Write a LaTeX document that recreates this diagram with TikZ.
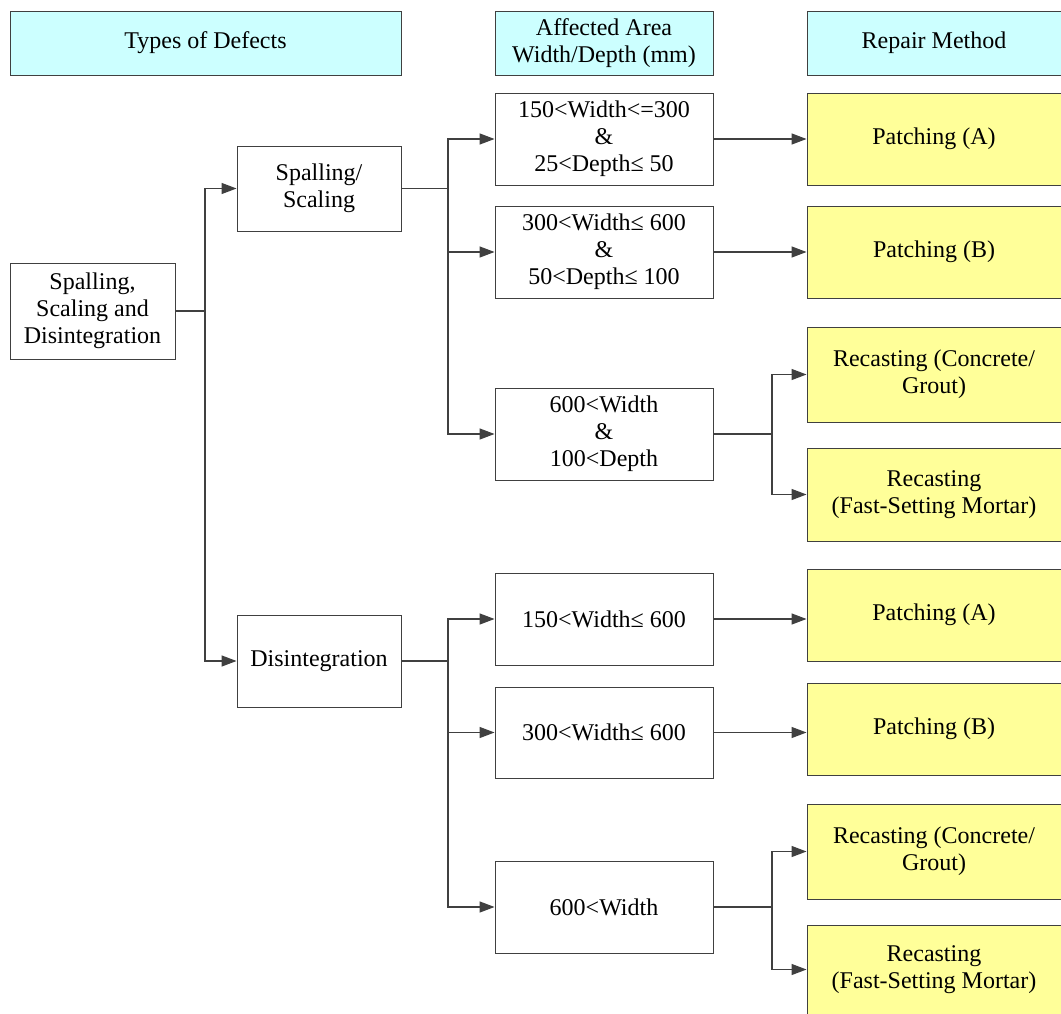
\documentclass[tikz,border=0pt]{standalone}
\usepackage{fontspec}
\setmainfont{Liberation Serif}
\usetikzlibrary{arrows.meta}
\definecolor{headcyan}{HTML}{CCFFFF}
\definecolor{repyellow}{HTML}{FFFF99}
\definecolor{linegray}{HTML}{404040}
\begin{document}
\begin{tikzpicture}[x=1pt,y=-1pt,>={Triangle[length=15pt,width=11pt]},
    line width=1.3pt, draw=linegray,
    box/.style={draw=linegray, line width=0.9pt, rectangle, align=center,
        inner sep=0pt, font=\fontsize{24}{27}\selectfont},
    head/.style={box, fill=headcyan},
    repair/.style={box, fill=repyellow}]
    \useasboundingbox (0,0) rectangle (1061,1014);
    % column headings
    \node (hdefect) [head, minimum width=391pt, minimum height=64pt] at (205.5,43) {Types of Defects};
    \node (harea) [head, minimum width=218pt, minimum height=64pt] at (604,43) {Affected Area\\Width/Depth (mm)};
    \node (hrepair) [head, minimum width=254pt, minimum height=64pt] at (934,43) {Repair Method};
    % defects
    \node (root) [box, minimum width=165pt, minimum height=96pt] at (92.5,311) {Spalling,\\Scaling and\\Disintegration};
    \node (spall) [box, minimum width=164pt, minimum height=85pt] at (319,188.5) {Spalling/\\Scaling};
    \node (disint) [box, minimum width=164pt, minimum height=92pt] at (319,661) {Disintegration};
    % affected areas
    \node (sa1) [box, minimum width=218pt, minimum height=92pt] at (604,139) {150<Width<=300\\\&\\25<Depth≤ 50};
    \node (sa2) [box, minimum width=218pt, minimum height=92pt] at (604,252) {300<Width≤ 600\\\&\\50<Depth≤ 100};
    \node (sa3) [box, minimum width=218pt, minimum height=92pt] at (604,434) {600<Width\\\&\\100<Depth};
    \node (da1) [box, minimum width=218pt, minimum height=92pt] at (604,619) {150<Width≤ 600};
    \node (da2) [box, minimum width=218pt, minimum height=91pt] at (604,732.5) {300<Width≤ 600};
    \node (da3) [box, minimum width=218pt, minimum height=92pt] at (604,907) {600<Width};
    % repair methods
    \node (sr1) [repair, minimum width=254pt, minimum height=92pt] at (934,139) {Patching (A)};
    \node (sr2) [repair, minimum width=254pt, minimum height=92pt] at (934,252) {Patching (B)};
    \node (sr3) [repair, minimum width=254pt, minimum height=95pt] at (934,374.5) {Recasting (Concrete/\\Grout)};
    \node (sr4) [repair, minimum width=254pt, minimum height=93pt] at (934,494.5) {Recasting\\(Fast-Setting Mortar)};
    \node (dr1) [repair, minimum width=254pt, minimum height=92pt] at (934,615) {Patching (A)};
    \node (dr2) [repair, minimum width=254pt, minimum height=92pt] at (934,729) {Patching (B)};
    \node (dr3) [repair, minimum width=254pt, minimum height=95pt] at (934,851.5) {Recasting (Concrete/\\Grout)};
    \node (dr4) [repair, minimum width=254pt, minimum height=89pt] at (934,969.5) {Recasting\\(Fast-Setting Mortar)};
    % branch points
    \coordinate (j0) at (205,311);
    \coordinate (j1) at (448,188.5);
    \coordinate (j2) at (448,661);
    \coordinate (j3) at (772,434);
    \coordinate (j4) at (772,907);

    \draw (root) -- (j0);
    \draw[->] (j0) |- (spall);
    \draw[->] (j0) |- (disint);
    \draw (spall) -- (j1);
    \draw[->] (j1) |- (sa1);
    \draw[->] (j1) |- (sa2);
    \draw[->] (j1) |- (sa3);
    \draw (disint) -- (j2);
    \draw[->] (j2) |- (da1);
    \draw[->] (j2) |- (da2);
    \draw[->] (j2) |- (da3);
    \draw[->] (sa1) -- (sa1 -| sr1.west);
    \draw[->] (sa2) -- (sa2 -| sr2.west);
    \draw (sa3) -- (j3);
    \draw[->] (j3) |- (sr3);
    \draw[->] (j3) |- (sr4);
    \draw[->] (da1) -- (da1 -| dr1.west);
    \draw[->] (da2) -- (da2 -| dr2.west);
    \draw (da3) -- (j4);
    \draw[->] (j4) |- (dr3);
    \draw[->] (j4) |- (dr4);
\end{tikzpicture}
\end{document}
